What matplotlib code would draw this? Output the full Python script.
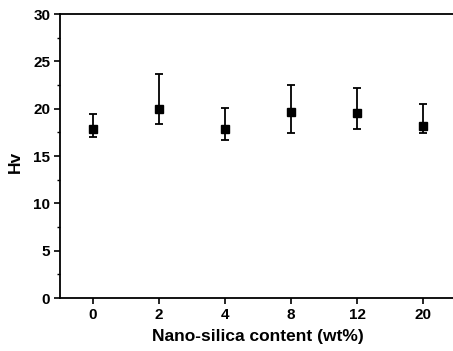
import matplotlib
matplotlib.use("Agg")
import matplotlib.pyplot as plt
from matplotlib.ticker import MultipleLocator

categories = ["0", "2", "4", "8", "12", "20"]
hv = [17.9, 20.0, 17.9, 19.7, 19.5, 18.2]
err_low = [17.0, 18.4, 16.7, 17.4, 17.8, 17.4]
err_high = [19.4, 23.7, 20.1, 22.5, 22.2, 20.5]

plt.rcParams['font.family'] = ['Liberation Sans', 'DejaVu Sans']
plt.rcParams['font.weight'] = 'bold'

fig = plt.figure(figsize=(4.53, 3.51), dpi=100)
ax = fig.add_axes([60/453, 1 - 298/351, (456-60)/453, (298-14)/351])

x = list(range(len(categories)))
lower = [h - l for h, l in zip(hv, err_low)]
upper = [u - h for h, u in zip(hv, err_high)]
ax.errorbar(x, hv, yerr=[lower, upper], fmt='s', color='black', ms=5.5,
            elinewidth=1.3, capsize=2.8, capthick=1.3)

ax.set_xlim(-0.5, 5.5)
ax.set_ylim(0, 30)
ax.set_xticks(x)
ax.set_xticklabels(categories)
ax.yaxis.set_major_locator(MultipleLocator(5))
ax.yaxis.set_minor_locator(MultipleLocator(2.5))
ax.tick_params(axis='both', which='major', direction='out', length=4, width=1.2, labelsize=11, pad=3)
ax.tick_params(axis='y', which='minor', direction='out', length=2.5, width=1.0)
ax.tick_params(top=False, right=False)
for s in ax.spines.values():
    s.set_linewidth(1.3)

ax.set_xlabel("Nano-silica content (wt%)", fontsize=12.5, fontweight='bold', labelpad=5)
ax.set_ylabel("Hv", fontsize=12.5, fontweight='bold', labelpad=8)
ax.yaxis.set_label_coords(-0.095, 0.48)

fig.savefig("out.png", dpi=100)
